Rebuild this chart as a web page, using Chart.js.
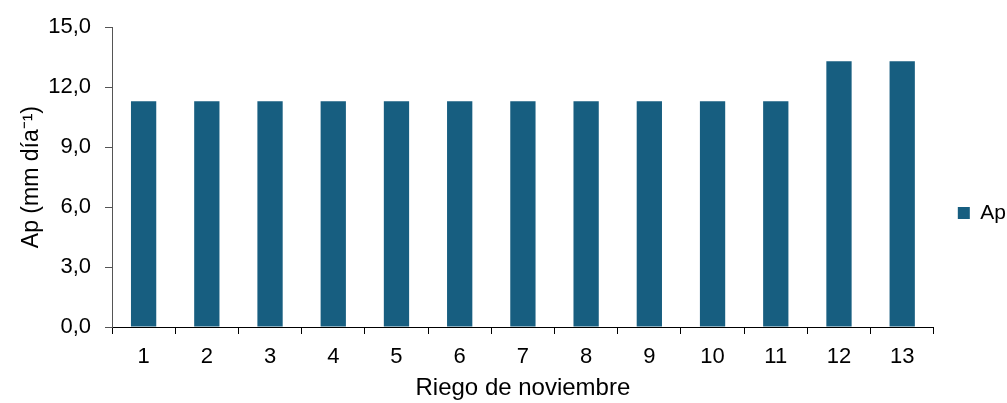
<!DOCTYPE html>
<html>
<head>
<meta charset="utf-8">
<script src="https://cdn.jsdelivr.net/npm/chart.js@4"></script>
<style>
  html, body { margin: 0; padding: 0; background: #fff; }
  #wrap { width: 1007px; height: 403px; }
</style>
</head>
<body>
<div id="wrap"><canvas id="chart" width="1007" height="403"></canvas></div>
<script>
// riego de noviembre, Ap en mm/dia
const riegos = ['1','2','3','4','5','6','7','8','9','10','11','12','13'];
const ap = [11.3, 11.3, 11.3, 11.3, 11.3, 11.3, 11.3, 11.3, 11.3, 11.3, 11.3, 13.3, 13.3];
const yTicks = [0, 3, 6, 9, 12, 15];

const barColor = '#175e80';
const fontFam = '"Liberation Sans", Arial, sans-serif';
const fs = 22;

new Chart(document.getElementById('chart'), {
  type: 'bar',
  data: {
    labels: riegos,
    datasets: [{
      label: 'Ap',
      data: ap,
      backgroundColor: barColor,
      borderWidth: 0,
      categoryPercentage: 1.0,
      barPercentage: 0.4
    }]
  },
  options: {
    responsive: false,
    animation: false,
    // negative right padding so the legend box sits away from the plot like the original
    layout: { padding: { top: 23, right: -9, bottom: 0, left: 18 } },
    plugins: {
      legend: {
        position: 'right',
        labels: {
          font: { family: fontFam, size: 21 },
          color: '#000',
          boxWidth: 12,
          boxHeight: 12,
          padding: 24
        }
      },
      tooltip: { enabled: false }
    },
    scales: {
      x: {
        offset: true,
        afterFit: s => { s.height = 76; },
        grid: {
          offset: true,
          drawOnChartArea: false,
          drawTicks: true,
          tickLength: 7,
          color: '#000'
        },
        border: { color: '#000', width: 1 },
        ticks: {
          font: { family: fontFam, size: fs },
          color: '#000',
          padding: 10
        },
        title: {
          display: true,
          text: 'Riego de noviembre',
          font: { family: fontFam, size: 24 },
          color: '#000',
          padding: { top: 0, bottom: 0 }
        }
      },
      y: {
        min: 0,
        max: 15,
        afterFit: s => { s.width = 94; },
        afterBuildTicks: axis => { axis.ticks = yTicks.map(v => ({ value: v })); },
        grid: {
          drawOnChartArea: false,
          drawTicks: true,
          tickLength: 7,
          color: '#555'
        },
        border: { color: '#555', width: 1 },
        ticks: {
          font: { family: fontFam, size: fs },
          color: '#000',
          padding: 14,
          callback: v => v.toFixed(1).replace('.', ',')
        },
        title: {
          display: true,
          text: 'Ap (mm día⁻¹)',
          font: { family: fontFam, size: 23 },
          color: '#000',
          padding: { top: 0, bottom: 0 }
        }
      }
    }
  }
});
</script>
</body>
</html>
